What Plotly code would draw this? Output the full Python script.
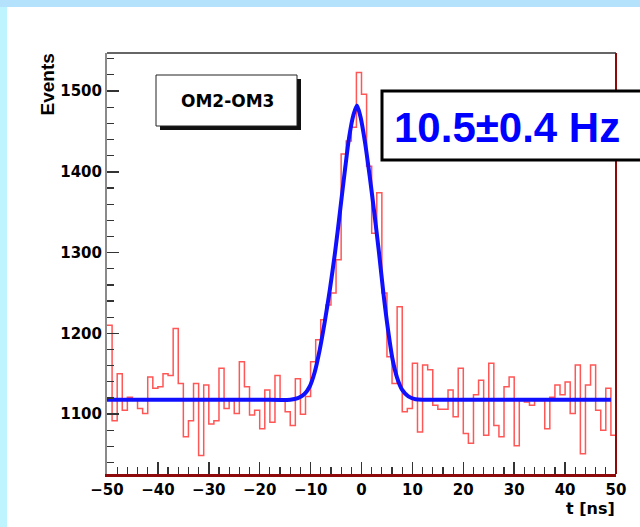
import numpy as np
import plotly.graph_objects as go

# ---------------- data ----------------
bin_low = -50          # first bin edge (ns)
bin_width = 1          # ns
counts = [1210, 1092, 1150, 1105, 1121, 1119, 1107, 1101, 1146, 1132,
          1134, 1150, 1148, 1206, 1138, 1072, 1092, 1138, 1049, 1136,
          1088, 1092, 1157, 1107, 1117, 1101, 1165, 1134, 1099, 1105,
          1082, 1130, 1090, 1148, 1119, 1103, 1086, 1144, 1100, 1122,
          1165, 1192, 1217, 1235, 1250, 1291, 1422, 1438, 1455, 1523,
          1496, 1407, 1324, 1374, 1250, 1171, 1138, 1233, 1103, 1107,
          1163, 1078, 1161, 1155, 1111, 1106, 1106, 1130, 1097, 1157,
          1076, 1064, 1124, 1142, 1074, 1163, 1086, 1072, 1134, 1146,
          1061, 1117, 1115, 1111, 1117, 1117, 1082, 1121, 1136, 1124,
          1140, 1101, 1161, 1051, 1136, 1161, 1105, 1080, 1132, 1074]

fit_t = [-50, -40, -30, -20, -14, -12.5, -11.2, -10.2, -9.2, -8.2, -7.2, -6.2,
         -5.2, -4.2, -3.2, -2.4, -1.6, -0.9, -0.2, 0.7, 1.6, 2.5, 3.4, 4.3,
         5.2, 6.1, 7.0, 8.0, 9.2, 10.6, 12.5, 20, 30, 40, 49]
fit_v = [1118, 1118, 1118, 1118, 1118, 1120, 1125, 1134, 1152, 1180, 1215, 1255,
         1300, 1352, 1405, 1444, 1470, 1482, 1468, 1436, 1395, 1350, 1302, 1250,
         1205, 1168, 1145, 1130, 1122, 1118.5, 1118, 1118, 1118, 1118, 1118]

x_range = [-50, 50]
y_range = [1026, 1547]
x_ticks = [-50, -40, -30, -20, -10, 0, 10, 20, 30, 40, 50]
y_ticks = [1100, 1200, 1300, 1400, 1500]

legend_label = "OM2-OM3"
rate_label = "10.5±0.4 Hz"
y_title = "Events"
x_title = "t [ns]"

# ---------------- geometry helpers ----------------
W, H = 640, 527
ML, MR, MT, MB = 107, 24, 53, 53
PW, PH = W - ML - MR, H - MT - MB


def px_x(px):
    return (px - ML) / PW


def px_y(py):
    return (H - MB - py) / PH


# ---------------- traces ----------------
edges = bin_low + bin_width * np.arange(len(counts) + 1)
step_x = list(edges)
step_y = list(counts) + [counts[-1]]

fig = go.Figure()
fig.add_trace(go.Scatter(
    x=step_x, y=step_y, mode="lines", line_shape="hv",
    line=dict(color="#ff5656", width=1.5), hoverinfo="skip", showlegend=False))
fig.add_trace(go.Scatter(
    x=fit_t, y=fit_v, mode="lines", line_shape="spline",
    line=dict(color="#1010ff", width=4, smoothing=0.8),
    hoverinfo="skip", showlegend=False))

tickfont = dict(family="DejaVu Sans", size=15, color="black", weight="bold")

fig.update_xaxes(
    range=x_range, tickmode="array", tickvals=x_ticks,
    ticks="inside", ticklen=12, tickwidth=1.5, tickcolor="#333333",
    minor=dict(ticks="inside", ticklen=7, tickwidth=1.2, tickcolor="#333333",
               tickmode="linear", tick0=-50, dtick=2),
    showline=True, linecolor="#8e0a0a", linewidth=3,
    showgrid=False, zeroline=False, tickfont=tickfont)
fig.update_yaxes(
    range=y_range, tickmode="array", tickvals=y_ticks,
    ticks="inside", ticklen=12, tickwidth=1.5, tickcolor="#333333",
    minor=dict(ticks="inside", ticklen=7, tickwidth=1.2, tickcolor="#333333",
               tickmode="linear", tick0=1100, dtick=20),
    showline=True, linecolor="#8a8a8a", linewidth=2,
    showgrid=False, zeroline=False, tickfont=tickfont)

shapes = [
    # white panel and left tinted strip
    dict(type="rect", xref="paper", yref="paper", layer="below",
         x0=px_x(7), x1=px_x(W + 5), y0=px_y(H + 5), y1=px_y(7),
         fillcolor="white", line=dict(width=0)),
    dict(type="rect", xref="paper", yref="paper", layer="below",
         x0=px_x(-5), x1=px_x(7), y0=px_y(H + 5), y1=px_y(7),
         fillcolor="#bdf4fe", line=dict(width=0)),
    # frame: top and right
    dict(type="line", xref="paper", yref="paper", x0=0, x1=1, y0=1, y1=1,
         line=dict(color="#666666", width=2)),
    dict(type="line", xref="paper", yref="paper", x0=1, x1=1, y0=0, y1=1,
         line=dict(color="#8e0a0a", width=2)),
    # legend box with shadow
    dict(type="rect", xref="paper", yref="paper",
         x0=px_x(160), x1=px_x(301), y0=px_y(130), y1=px_y(79),
         fillcolor="#111111", line=dict(width=0)),
    dict(type="rect", xref="paper", yref="paper",
         x0=px_x(156), x1=px_x(297), y0=px_y(126), y1=px_y(75),
         fillcolor="white", line=dict(color="#222222", width=1)),
    # rate box
    dict(type="rect", xref="paper", yref="paper",
         x0=px_x(382), x1=px_x(W + 20), y0=px_y(160), y1=px_y(91),
         fillcolor="white", line=dict(color="black", width=3)),
]

annotations = [
    dict(text=legend_label, xref="paper", yref="paper", x=px_x(227), y=px_y(101),
         xanchor="center", yanchor="middle", showarrow=False,
         font=dict(family="DejaVu Sans", size=17, color="black", weight="bold")),
    dict(text=rate_label, xref="paper", yref="paper", x=px_x(392), y=px_y(127.5),
         xanchor="left", yanchor="middle", showarrow=False,
         font=dict(family="Liberation Sans", size=42, color="#0000ff", weight="bold")),
    dict(text=y_title, xref="paper", yref="paper", x=px_x(46.5), y=px_y(85),
         xanchor="center", yanchor="middle", textangle=-90, showarrow=False,
         font=dict(family="Liberation Sans", size=19, color="black", weight="bold")),
    dict(text=x_title, xref="paper", yref="paper", x=px_x(617), y=px_y(508),
         xanchor="right", yanchor="middle", showarrow=False,
         font=dict(family="DejaVu Sans", size=16, color="black", weight="bold")),
]

fig.update_layout(
    width=W, height=H, autosize=False,
    margin=dict(l=ML, r=MR, t=MT, b=MB, pad=0),
    paper_bgcolor="#b4e2fc", plot_bgcolor="white",
    shapes=shapes, annotations=annotations, showlegend=False)

fig.write_html(
    "out.html",
    config={"displayModeBar": False, "staticPlot": True},
    post_script="document.body.style.margin='0';"
                "document.body.style.overflow='hidden';"
                "document.body.style.background='#b4e2fc';")
